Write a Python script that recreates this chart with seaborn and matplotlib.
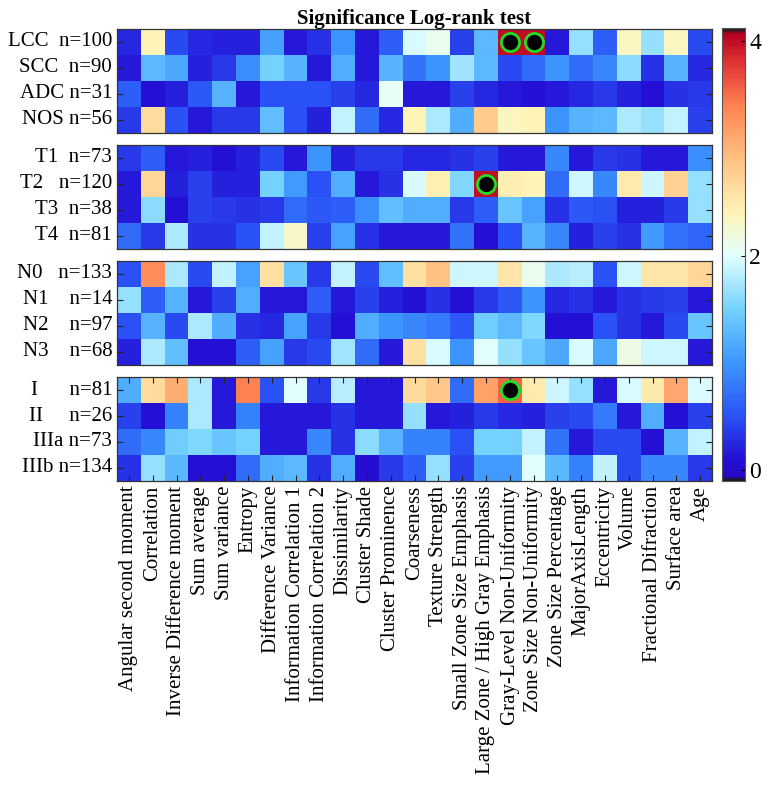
import numpy as np
import pandas as pd
import matplotlib
matplotlib.use("Agg")
import matplotlib.pyplot as plt
import seaborn as sns
from matplotlib.colors import LinearSegmentedColormap

plt.rcParams['font.family'] = ['Liberation Serif', 'DejaVu Serif']

features = ["Angular second moment", "Correlation", "Inverse Difference moment",
            "Sum average", "Sum variance", "Entropy", "Difference Variance",
            "Information Correlation 1", "Information Correlation 2", "Dissimilarity",
            "Cluster Shade", "Cluster Prominence", "Coarseness", "Texture Strength",
            "Small Zone Size Emphasis", "Large Zone / High Gray Emphasis",
            "Gray-Level Non-Uniformity", "Zone Size Non-Uniformity", "Zone Size Percentage",
            "MajorAxisLength", "Eccentricity", "Volume", "Fractional Difraction",
            "Surface area", "Age"]

# histology
histo_labels = ["LCC  n=100", "SCC  n=90", "ADC n=31", "NOS n=56"]
lcc = [0.25, 2.4, 0.45, 0.25, 0.2, 0.2, 1.1, 0.15, 0.3, 1.0, 0.15, 0.6, 1.95, 2.1, 0.4, 1.3, 4.0, 4.0, 0.15, 1.65, 0.6, 2.35, 1.65, 2.35, 0.45]
scc = [0.15, 1.3, 1.15, 0.2, 0.35, 0.95, 1.5, 1.25, 0.15, 1.2, 0.15, 1.25, 0.75, 1.0, 1.7, 1.3, 0.45, 0.7, 1.0, 0.7, 0.9, 1.6, 0.3, 1.25, 0.25]
adc = [0.6, 0.1, 0.2, 0.55, 1.25, 0.15, 0.5, 0.5, 0.5, 0.4, 0.25, 2.05, 0.15, 0.15, 0.4, 0.25, 0.15, 0.1, 0.15, 0.25, 0.35, 0.2, 0.1, 0.3, 0.35]
nos = [0.35, 2.65, 0.5, 0.15, 0.35, 0.35, 1.35, 0.5, 0.2, 1.85, 0.7, 0.25, 2.4, 1.75, 1.2, 2.8, 2.35, 2.4, 1.0, 1.25, 1.3, 1.75, 1.65, 1.85, 0.4]

# T stage
t_labels = ["T1  n=73", "T2   n=120", "T3  n=38", "T4  n=81"]
t1 = [0.35, 0.6, 0.15, 0.2, 0.1, 0.2, 0.45, 0.15, 1.0, 0.2, 0.35, 0.35, 0.25, 0.25, 0.3, 0.4, 0.15, 0.15, 0.9, 0.15, 0.35, 0.3, 0.15, 0.15, 0.95]
t2 = [0.15, 2.7, 0.2, 0.4, 0.2, 0.2, 1.5, 1.05, 0.5, 1.2, 0.15, 0.3, 1.95, 2.45, 1.55, 4.0, 2.45, 2.4, 0.7, 1.9, 0.9, 2.5, 1.9, 2.75, 1.65]
t3 = [0.15, 1.6, 0.1, 0.4, 0.35, 0.3, 0.35, 0.7, 0.55, 0.6, 0.95, 1.35, 1.2, 1.2, 0.35, 0.6, 1.4, 1.1, 0.3, 0.55, 0.5, 0.2, 0.2, 0.35, 1.65]
t4 = [0.7, 0.35, 1.75, 0.3, 0.3, 0.5, 1.85, 2.3, 0.4, 1.1, 0.3, 0.15, 0.15, 0.15, 0.75, 0.1, 0.5, 1.25, 0.9, 0.2, 0.4, 0.3, 1.05, 0.75, 0.65]

# N stage
n_labels = ["N0   n=133", "N1    n=14", "N2    n=97", "N3    n=68"]
n0 = [0.5, 3.3, 1.75, 0.45, 1.85, 1.1, 2.6, 1.4, 0.35, 1.85, 0.45, 1.35, 2.6, 2.9, 1.9, 1.9, 2.55, 2.1, 1.75, 1.8, 0.5, 1.9, 2.55, 2.55, 2.7]
n1 = [1.65, 0.6, 1.25, 0.15, 0.4, 1.2, 0.15, 0.15, 0.6, 0.15, 0.4, 0.2, 0.1, 0.3, 0.1, 0.35, 0.55, 1.0, 0.25, 0.3, 0.15, 0.3, 0.35, 0.4, 0.15]
n2 = [0.5, 1.25, 0.45, 1.75, 1.2, 0.3, 0.25, 1.1, 0.35, 0.1, 1.2, 1.0, 0.9, 0.8, 0.55, 1.45, 1.3, 1.55, 0.1, 0.1, 0.5, 0.3, 0.15, 0.45, 1.4]
n3 = [0.2, 1.75, 1.35, 0.1, 0.1, 0.6, 1.1, 0.35, 0.45, 1.7, 0.7, 0.15, 2.6, 1.95, 1.0, 2.0, 1.65, 1.4, 1.15, 1.95, 1.15, 2.15, 1.9, 1.9, 0.15]

# overall stage
s_labels = ["I      n=81", "II     n=26", "IIIa n=73", "IIIb n=134"]
s1 = [1.2, 2.65, 3.05, 1.75, 0.15, 3.4, 0.5, 2.0, 0.35, 1.8, 0.15, 0.15, 2.65, 2.85, 0.7, 3.15, 3.55, 2.5, 1.9, 1.65, 0.15, 1.95, 2.5, 3.1, 1.95]
s2 = [0.4, 0.1, 0.85, 1.75, 0.15, 0.85, 0.15, 0.15, 0.15, 0.3, 0.15, 0.15, 1.65, 0.15, 0.2, 0.35, 0.25, 0.2, 0.4, 0.45, 0.8, 0.15, 1.2, 0.1, 0.4]
s3a = [0.7, 0.9, 1.45, 1.55, 1.4, 1.5, 0.15, 0.15, 0.9, 0.3, 1.6, 1.25, 0.85, 0.85, 0.5, 1.5, 1.5, 1.85, 0.75, 0.15, 0.45, 0.45, 0.1, 1.25, 1.85]
s3b = [0.3, 1.65, 1.3, 0.1, 0.1, 0.7, 1.2, 1.3, 0.3, 1.2, 0.05, 0.35, 0.6, 1.65, 0.4, 1.05, 1.05, 2.0, 1.3, 0.85, 1.85, 0.45, 0.9, 0.9, 0.35]

panels = [
    (histo_labels, [lcc, scc, adc, nos]),
    (t_labels, [t1, t2, t3, t4]),
    (n_labels, [n0, n1, n2, n3]),
    (s_labels, [s1, s2, s3a, s3b]),
]

# significant cells (group, feature)
significant = [("LCC  n=100", "Gray-Level Non-Uniformity"),
               ("LCC  n=100", "Zone Size Non-Uniformity"),
               ("T2   n=120", "Large Zone / High Gray Emphasis"),
               ("I      n=81", "Gray-Level Non-Uniformity")]

VMIN, VMAX = -0.1, 4.12
anchors = [(-0.1, "#1c1c1c"), (-0.07, "#2608c4"), (0.1, "#2410d4"), (0.5, "#2a52f6"),
           (1.0, "#3c96ff"), (1.5, "#74d2ff"), (2.0, "#e2ffff"), (2.4, "#fff4b8"),
           (2.9, "#ffc282"), (3.4, "#ff8352"), (3.8, "#e03434"), (4.07, "#b40020"),
           (4.12, "#1c1c1c")]
cmap = LinearSegmentedColormap.from_list(
    "sig", [((v - VMIN) / (VMAX - VMIN), c) for v, c in anchors], N=256)

fig = plt.figure(figsize=(7.73, 8.01), dpi=100)
W, H = 773, 801
left, right = 117, 712
tops = [29, 145, 261, 377]
ph = 104

for k, (labels, rows) in enumerate(panels):
    ax = fig.add_axes([left / W, 1 - (tops[k] + ph) / H, (right - left) / W, ph / H])
    df = pd.DataFrame(rows, index=labels, columns=features)
    last = k == len(panels) - 1
    if last:
        cax = fig.add_axes([722 / W, 1 - 481 / H, 22.5 / W, 453 / H])
    sns.heatmap(df, ax=ax, cmap=cmap, vmin=VMIN, vmax=VMAX, cbar=last,
                cbar_ax=cax if last else None, xticklabels=last, yticklabels=True)
    for sp in ax.spines.values():
        sp.set_visible(True)
        sp.set_color("#333333")
        sp.set_linewidth(0.9)
    ax.tick_params(axis="both", direction="in", length=4, width=0.8, color="#222222",
                   top=True, right=True, labelsize=15)
    ax.set_yticklabels(labels, rotation=0, fontsize=15)
    ax.set_xlabel("")
    ax.set_ylabel("")
    if last:
        ax.set_xticklabels(features, rotation=90, fontsize=15)
    for g, f in significant:
        if g in labels:
            ax.scatter(features.index(f) + 0.5, labels.index(g) + 0.5, s=170,
                       facecolor="black", edgecolor="#22dd22", linewidth=2, zorder=5)
    if k == 0:
        ax.set_title("Significance Log-rank test", fontsize=15, fontweight="bold", pad=2)

cax.set_yticks([0, 2, 4])
cax.tick_params(direction="in", length=3, labelsize=17)
for sp in cax.spines.values():
    sp.set_visible(True)
    sp.set_color("#555555")

fig.savefig("out.png", dpi=100)
